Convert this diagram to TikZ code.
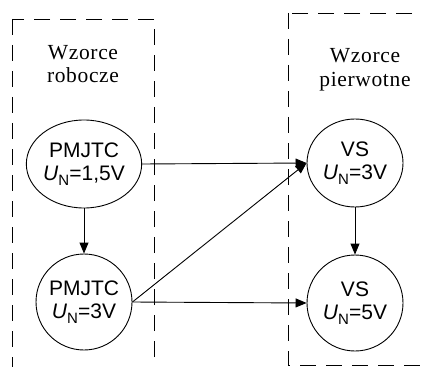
\documentclass[tikz,border=0pt]{standalone}
\usepackage{fontspec}
\setmainfont{Liberation Serif}
\setsansfont{Liberation Sans}
\usetikzlibrary{arrows.meta,shapes.geometric}

% lowered index letter for the nominal voltage symbol
\newcommand{\lowidx}[1]{\raisebox{-0.22em}{\fontsize{15}{15}\selectfont #1}}

\tikzset{
  groupbox/.style={draw=black, line width=0.9pt, dash pattern=on 16pt off 10pt},
  grouplabel/.style={align=center, inner sep=0pt,
    font=\fontsize{21.5}{23.5}\selectfont\addfontfeature{LetterSpace=3}},
  topnode/.style={ellipse, draw, line width=0.9pt, inner sep=0pt,
    minimum width=96pt, minimum height=88pt, align=center,
    font=\fontsize{21}{23}\selectfont\sffamily},
  botnode/.style={circle, draw, line width=0.9pt, inner sep=0pt,
    minimum size=96pt, align=center,
    font=\fontsize{21}{23}\selectfont\sffamily},
  link/.style={line width=0.9pt, -{Triangle[length=11pt,width=9pt]}}
}

\begin{document}
\begin{tikzpicture}[x=1pt,y=-1pt]
\useasboundingbox (0,0) rectangle (422,366);
\clip (0,0) rectangle (422,366);

% dashed group frames
\draw[groupbox] (12,19) rectangle (154,390);
\draw[groupbox] (288,13) rectangle (440,365);

% group titles
\node[grouplabel] (lt) at (83,64) {Wzorce\\robocze};
\node[grouplabel] (rt) at (365,70) {Wzorce\\pierwotne};

% standards
\node[topnode] (pm1) at (84,164) {PMJTC\\\textit{U}\lowidx{N}=1,5V};
\node[botnode] (pm2) at (84,302) {PMJTC\\\textit{U}\lowidx{N}=3V};
\node[topnode] (vs1) at (355,163) {VS\\\textit{U}\lowidx{N}=3V};
\node[botnode] (vs2) at (355,303) {VS\\\textit{U}\lowidx{N}=5V};

% traceability links
\draw[link] (pm1.east) -- (vs1.west);
\draw[link] (pm1.south) -- (pm2.north);
\draw[link] (pm2.east) -- (vs1.west);
\draw[link] (pm2.east) -- (vs2.west);
\draw[link] (vs1.south) -- (vs2.north);
\end{tikzpicture}
\end{document}
